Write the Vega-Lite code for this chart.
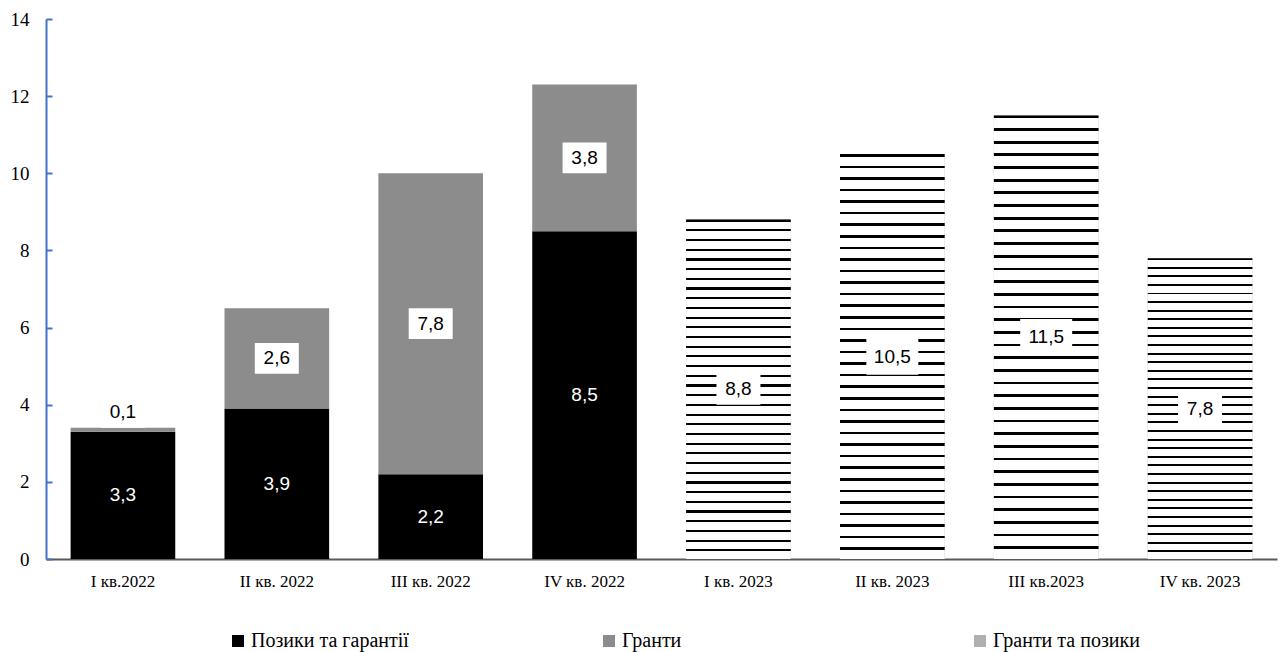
{
  "$schema": "https://vega.github.io/schema/vega-lite/v6.json",
  "width": 1231,
  "height": 540,
  "autosize": {"type": "none"},
  "padding": {"left": 46, "top": 19, "right": 6, "bottom": 93},
  "config": {
    "view": {"stroke": null},
    "font": "Liberation Serif",
    "axis": {"labelFont": "Liberation Serif"},
    "legend": {"labelFont": "Liberation Serif"}
  },
  "data": {
    "values": [
      {"quarter": "I кв.2022", "type": "Позики та гарантії", "ord": 1, "value": 3.3},
      {"quarter": "I кв.2022", "type": "Гранти", "ord": 2, "value": 0.1},
      {"quarter": "II кв. 2022", "type": "Позики та гарантії", "ord": 1, "value": 3.9},
      {"quarter": "II кв. 2022", "type": "Гранти", "ord": 2, "value": 2.6},
      {"quarter": "III кв. 2022", "type": "Позики та гарантії", "ord": 1, "value": 2.2},
      {"quarter": "III кв. 2022", "type": "Гранти", "ord": 2, "value": 7.8},
      {"quarter": "IV кв. 2022", "type": "Позики та гарантії", "ord": 1, "value": 8.5},
      {"quarter": "IV кв. 2022", "type": "Гранти", "ord": 2, "value": 3.8},
      {"quarter": "I кв. 2023", "type": "Гранти та позики", "ord": 3, "value": 8.8},
      {"quarter": "II кв. 2023", "type": "Гранти та позики", "ord": 3, "value": 10.5},
      {"quarter": "III кв.2023", "type": "Гранти та позики", "ord": 3, "value": 11.5},
      {"quarter": "IV кв. 2023", "type": "Гранти та позики", "ord": 3, "value": 7.8}
    ]
  },
  "transform": [
    {"stack": "value", "groupby": ["quarter"], "sort": [{"field": "ord"}], "as": ["v0", "v1"]},
    {"calculate": "replace(format(datum.value, '.1f'), '.', ',')", "as": "lbl"},
    {"calculate": "datum.value < 0.5 ? datum.v1 + 0.4 : (datum.v0 + datum.v1) / 2", "as": "ly"}
  ],
  "encoding": {
    "x": {
      "field": "quarter",
      "type": "nominal",
      "sort": ["I кв.2022", "II кв. 2022", "III кв. 2022", "IV кв. 2022", "I кв. 2023", "II кв. 2023", "III кв.2023", "IV кв. 2023"],
      "scale": {"paddingInner": 0.32, "paddingOuter": 0.16},
      "axis": {
        "title": null,
        "labelAngle": 0,
        "labelFont": "Liberation Serif",
        "labelFontSize": 17,
        "labelColor": "#000000",
        "labelPadding": 14,
        "ticks": false,
        "domainColor": "#595959",
        "domainWidth": 2
      }
    },
    "y": {
      "field": "v0",
      "type": "quantitative",
      "scale": {"domain": [0, 14], "nice": false},
      "axis": {
        "title": null,
        "values": [0, 2, 4, 6, 8, 10, 12, 14],
        "grid": false,
        "domainColor": "#4472c4",
        "domainWidth": 2,
        "tickColor": "#4472c4",
        "tickWidth": 2,
        "tickSize": -6,
        "labelPadding": 23,
        "labelFont": "Liberation Serif",
        "labelFontSize": 19,
        "labelColor": "#000000"
      }
    },
    "y2": {"field": "v1"}
  },
  "layer": [
    {
      "mark": {"type": "bar"},
      "encoding": {
        "color": {
          "field": "type",
          "type": "nominal",
          "scale": {
            "domain": ["Позики та гарантії", "Гранти", "Гранти та позики"],
            "range": ["#000000", "#8c8c8c", "#b0b0b0"]
          },
          "legend": {
            "title": null,
            "orient": "none",
            "legendX": 182,
            "legendY": 612,
            "direction": "horizontal",
            "columns": 3,
            "gridAlign": "all",
            "columnPadding": 190,
            "symbolType": "square",
            "symbolSize": 144,
            "symbolStrokeWidth": 0,
            "labelFont": "Liberation Serif",
            "labelFontSize": 20,
            "labelColor": "#000000",
            "labelOffset": 3
          }
        }
      }
    },
    {
      "transform": [{"filter": "datum.type === 'Гранти та позики'"}],
      "mark": {
        "type": "bar",
        "fill": {
          "gradient": "linear", "x1": 0, "y1": 0, "x2": 0, "y2": 1,
          "stops": [
            {"offset": 0, "color": "#000000"}, {"offset": 0.0063, "color": "#000000"}, {"offset": 0.0063, "color": "#ffffff"}, {"offset": 0.0286, "color": "#ffffff"},
            {"offset": 0.0286, "color": "#000000"}, {"offset": 0.0349, "color": "#000000"}, {"offset": 0.0349, "color": "#ffffff"}, {"offset": 0.0571, "color": "#ffffff"},
            {"offset": 0.0571, "color": "#000000"}, {"offset": 0.0634, "color": "#000000"}, {"offset": 0.0634, "color": "#ffffff"}, {"offset": 0.0857, "color": "#ffffff"},
            {"offset": 0.0857, "color": "#000000"}, {"offset": 0.0920, "color": "#000000"}, {"offset": 0.0920, "color": "#ffffff"}, {"offset": 0.1143, "color": "#ffffff"},
            {"offset": 0.1143, "color": "#000000"}, {"offset": 0.1206, "color": "#000000"}, {"offset": 0.1206, "color": "#ffffff"}, {"offset": 0.1429, "color": "#ffffff"},
            {"offset": 0.1429, "color": "#000000"}, {"offset": 0.1492, "color": "#000000"}, {"offset": 0.1492, "color": "#ffffff"}, {"offset": 0.1714, "color": "#ffffff"},
            {"offset": 0.1714, "color": "#000000"}, {"offset": 0.1777, "color": "#000000"}, {"offset": 0.1777, "color": "#ffffff"}, {"offset": 0.2, "color": "#ffffff"},
            {"offset": 0.2, "color": "#000000"}, {"offset": 0.2063, "color": "#000000"}, {"offset": 0.2063, "color": "#ffffff"}, {"offset": 0.2286, "color": "#ffffff"},
            {"offset": 0.2286, "color": "#000000"}, {"offset": 0.2349, "color": "#000000"}, {"offset": 0.2349, "color": "#ffffff"}, {"offset": 0.2571, "color": "#ffffff"},
            {"offset": 0.2571, "color": "#000000"}, {"offset": 0.2634, "color": "#000000"}, {"offset": 0.2634, "color": "#ffffff"}, {"offset": 0.2857, "color": "#ffffff"},
            {"offset": 0.2857, "color": "#000000"}, {"offset": 0.2920, "color": "#000000"}, {"offset": 0.2920, "color": "#ffffff"}, {"offset": 0.3143, "color": "#ffffff"},
            {"offset": 0.3143, "color": "#000000"}, {"offset": 0.3206, "color": "#000000"}, {"offset": 0.3206, "color": "#ffffff"}, {"offset": 0.3429, "color": "#ffffff"},
            {"offset": 0.3429, "color": "#000000"}, {"offset": 0.3492, "color": "#000000"}, {"offset": 0.3492, "color": "#ffffff"}, {"offset": 0.3714, "color": "#ffffff"},
            {"offset": 0.3714, "color": "#000000"}, {"offset": 0.3777, "color": "#000000"}, {"offset": 0.3777, "color": "#ffffff"}, {"offset": 0.4, "color": "#ffffff"},
            {"offset": 0.4, "color": "#000000"}, {"offset": 0.4063, "color": "#000000"}, {"offset": 0.4063, "color": "#ffffff"}, {"offset": 0.4286, "color": "#ffffff"},
            {"offset": 0.4286, "color": "#000000"}, {"offset": 0.4349, "color": "#000000"}, {"offset": 0.4349, "color": "#ffffff"}, {"offset": 0.4571, "color": "#ffffff"},
            {"offset": 0.4571, "color": "#000000"}, {"offset": 0.4634, "color": "#000000"}, {"offset": 0.4634, "color": "#ffffff"}, {"offset": 0.4857, "color": "#ffffff"},
            {"offset": 0.4857, "color": "#000000"}, {"offset": 0.4920, "color": "#000000"}, {"offset": 0.4920, "color": "#ffffff"}, {"offset": 0.5143, "color": "#ffffff"},
            {"offset": 0.5143, "color": "#000000"}, {"offset": 0.5206, "color": "#000000"}, {"offset": 0.5206, "color": "#ffffff"}, {"offset": 0.5429, "color": "#ffffff"},
            {"offset": 0.5429, "color": "#000000"}, {"offset": 0.5492, "color": "#000000"}, {"offset": 0.5492, "color": "#ffffff"}, {"offset": 0.5714, "color": "#ffffff"},
            {"offset": 0.5714, "color": "#000000"}, {"offset": 0.5777, "color": "#000000"}, {"offset": 0.5777, "color": "#ffffff"}, {"offset": 0.6, "color": "#ffffff"},
            {"offset": 0.6, "color": "#000000"}, {"offset": 0.6063, "color": "#000000"}, {"offset": 0.6063, "color": "#ffffff"}, {"offset": 0.6286, "color": "#ffffff"},
            {"offset": 0.6286, "color": "#000000"}, {"offset": 0.6349, "color": "#000000"}, {"offset": 0.6349, "color": "#ffffff"}, {"offset": 0.6571, "color": "#ffffff"},
            {"offset": 0.6571, "color": "#000000"}, {"offset": 0.6634, "color": "#000000"}, {"offset": 0.6634, "color": "#ffffff"}, {"offset": 0.6857, "color": "#ffffff"},
            {"offset": 0.6857, "color": "#000000"}, {"offset": 0.6920, "color": "#000000"}, {"offset": 0.6920, "color": "#ffffff"}, {"offset": 0.7143, "color": "#ffffff"},
            {"offset": 0.7143, "color": "#000000"}, {"offset": 0.7206, "color": "#000000"}, {"offset": 0.7206, "color": "#ffffff"}, {"offset": 0.7429, "color": "#ffffff"},
            {"offset": 0.7429, "color": "#000000"}, {"offset": 0.7492, "color": "#000000"}, {"offset": 0.7492, "color": "#ffffff"}, {"offset": 0.7714, "color": "#ffffff"},
            {"offset": 0.7714, "color": "#000000"}, {"offset": 0.7777, "color": "#000000"}, {"offset": 0.7777, "color": "#ffffff"}, {"offset": 0.8, "color": "#ffffff"},
            {"offset": 0.8, "color": "#000000"}, {"offset": 0.8063, "color": "#000000"}, {"offset": 0.8063, "color": "#ffffff"}, {"offset": 0.8286, "color": "#ffffff"},
            {"offset": 0.8286, "color": "#000000"}, {"offset": 0.8349, "color": "#000000"}, {"offset": 0.8349, "color": "#ffffff"}, {"offset": 0.8571, "color": "#ffffff"},
            {"offset": 0.8571, "color": "#000000"}, {"offset": 0.8634, "color": "#000000"}, {"offset": 0.8634, "color": "#ffffff"}, {"offset": 0.8857, "color": "#ffffff"},
            {"offset": 0.8857, "color": "#000000"}, {"offset": 0.8920, "color": "#000000"}, {"offset": 0.8920, "color": "#ffffff"}, {"offset": 0.9143, "color": "#ffffff"},
            {"offset": 0.9143, "color": "#000000"}, {"offset": 0.9206, "color": "#000000"}, {"offset": 0.9206, "color": "#ffffff"}, {"offset": 0.9429, "color": "#ffffff"},
            {"offset": 0.9429, "color": "#000000"}, {"offset": 0.9492, "color": "#000000"}, {"offset": 0.9492, "color": "#ffffff"}, {"offset": 0.9714, "color": "#ffffff"},
            {"offset": 0.9714, "color": "#000000"}, {"offset": 0.9777, "color": "#000000"}, {"offset": 0.9777, "color": "#ffffff"}, {"offset": 1, "color": "#ffffff"}
          ]
        }
      }
    },
    {
      "transform": [{"filter": "datum.type !== 'Позики та гарантії'"}],
      "mark": {"type": "point", "shape": "M-1,-0.7L1,-0.7L1,0.7L-1,0.7Z", "filled": true, "color": "#ffffff", "opacity": 1, "strokeWidth": 0},
      "encoding": {
        "y": {"field": "ly", "type": "quantitative"},
        "y2": null,
        "size": {"condition": {"test": "length(datum.lbl) > 3", "value": 2704}, "value": 1936}
      }
    },
    {
      "mark": {"type": "text", "font": "Liberation Sans", "fontSize": 19, "baseline": "middle", "align": "center"},
      "encoding": {
        "y": {"field": "ly", "type": "quantitative"},
        "y2": null,
        "text": {"field": "lbl"},
        "color": {"condition": {"test": "datum.type === 'Позики та гарантії'", "value": "#ffffff"}, "value": "#000000"}
      }
    }
  ]
}
